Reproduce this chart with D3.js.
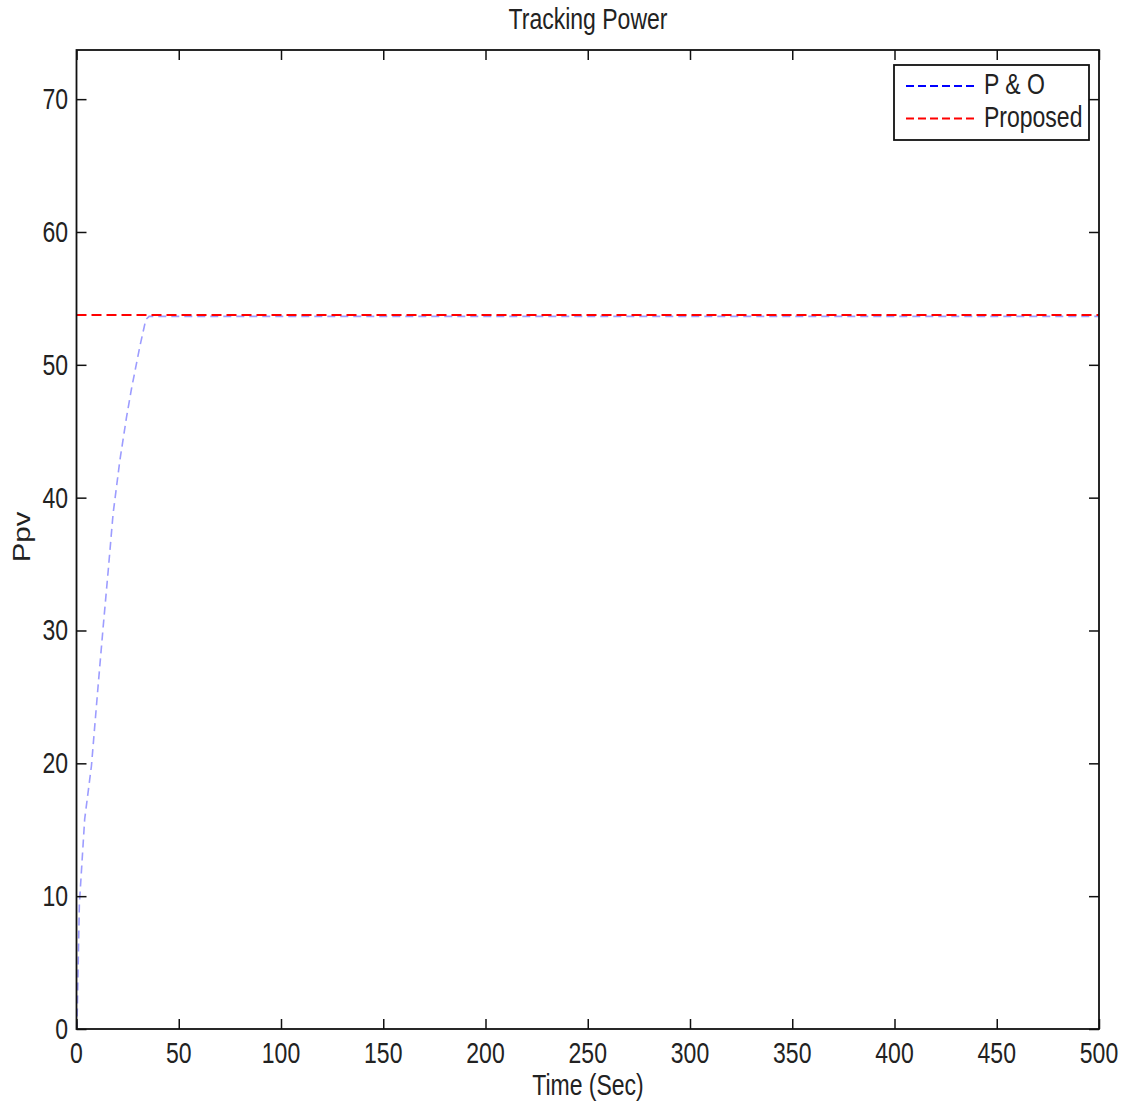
<!DOCTYPE html>
<html>
<head>
<meta charset="utf-8">
<script src="https://cdn.jsdelivr.net/npm/d3@7"></script>
<style>
  html, body { margin: 0; padding: 0; background: #fff; }
  svg { display: block; }
  text { font-family: "Liberation Sans", Arial, sans-serif; fill: #222; }
</style>
</head>
<body>
<svg id="chart" width="1125" height="1104"></svg>
<script>
// ---- data ----
const xTicks = [0, 50, 100, 150, 200, 250, 300, 350, 400, 450, 500];
const yTicks = [0, 10, 20, 30, 40, 50, 60, 70];
const seriesNames = ["P & O", "Proposed"];
const poTime  = [0, 0.2, 1.4, 4, 7.3, 10.6, 13, 15.5, 17.9, 21.2, 24.4, 26.9, 31, 33.9, 35.5, 500];
const poPower = [0, 0, 9.4, 15.8, 19.8, 25.9, 30.2, 34.5, 38.8, 42.8, 46.0, 48.2, 51.4, 53.4, 53.65, 53.65];
const propTime  = [0, 500];
const propPower = [53.75, 53.75];

// ---- layout ----
const L = 76.5, R = 1099, T = 50, B = 1029;
const svg = d3.select("#chart");
const x = d3.scaleLinear().domain([0, 500]).range([L, R]);
const y = d3.scaleLinear().domain([0, 73.7]).range([B, T]);
const SY = 1.28, FS = 23;

function stext(g, px, py, str, anchor, rot) {
  return g.append("text")
    .attr("transform", `translate(${px},${py}) scale(1,${SY})` + (rot ? ` rotate(${rot})` : ""))
    .attr("text-anchor", anchor)
    .style("font-size", FS + "px")
    .text(str);
}

// data lines
const line = d3.line().x(d => x(d[0])).y(d => y(d[1]));
svg.append("clipPath").attr("id", "clip").append("rect")
  .attr("x", L).attr("y", T).attr("width", R - L).attr("height", B - T);
const plot = svg.append("g").attr("clip-path", "url(#clip)");

plot.append("path")
  .datum(poTime.map((t, i) => [t, poPower[i]]))
  .attr("d", line).attr("fill", "none")
  .attr("stroke", "#5a5aff").attr("stroke-opacity", 0.6)
  .attr("stroke-width", 1.6).attr("stroke-dasharray", "8,5");

plot.append("path")
  .datum(propTime.map((t, i) => [t, propPower[i]]))
  .attr("d", line).attr("fill", "none")
  .attr("stroke", "#ff0000").attr("stroke-width", 2.2)
  .attr("stroke-dasharray", "10,5");

// axes (MATLAB style: inward ticks on all sides)
const tl = 10;
const ax = svg.append("g");
ax.append("g").attr("transform", `translate(0,${B})`)
  .call(d3.axisBottom(x).tickValues(xTicks).tickSize(-tl).tickFormat(""))
  .call(g => g.select(".domain").remove());
ax.append("g").attr("transform", `translate(0,${T})`)
  .call(d3.axisTop(x).tickValues(xTicks).tickSize(-tl).tickFormat(""))
  .call(g => g.select(".domain").remove());
ax.append("g").attr("transform", `translate(${L},0)`)
  .call(d3.axisLeft(y).tickValues(yTicks).tickSize(-tl).tickFormat(""))
  .call(g => g.select(".domain").remove());
ax.append("g").attr("transform", `translate(${R},0)`)
  .call(d3.axisRight(y).tickValues(yTicks).tickSize(-tl).tickFormat(""))
  .call(g => g.select(".domain").remove());
ax.selectAll(".tick line").attr("stroke", "#111").attr("stroke-width", 1.5);

svg.append("rect").attr("x", L).attr("y", T).attr("width", R - L).attr("height", B - T)
  .attr("fill", "none").attr("stroke", "#111").attr("stroke-width", 1.8);

// tick labels
const lab = svg.append("g");
xTicks.forEach(v => stext(lab, x(v), 1063, v, "middle"));
yTicks.forEach(v => stext(lab, 68, y(v) + 10, v, "end"));

// title & axis labels
stext(svg, 588, 29, "Tracking Power", "middle");
stext(svg, 588, 1095, "Time (Sec)", "middle");
stext(svg, 30, 537, "Ppv", "middle", -90);

// legend
const lg = svg.append("g");
lg.append("rect").attr("x", 894).attr("y", 65).attr("width", 195).attr("height", 75)
  .attr("fill", "#fff").attr("stroke", "#111").attr("stroke-width", 1.8);
const legColors = ["#0000ff", "#ff0000"];
seriesNames.forEach((n, i) => {
  const ly = 86 + i * 32.5;
  lg.append("line").attr("x1", 906).attr("x2", 978).attr("y1", ly).attr("y2", ly)
    .attr("stroke", legColors[i]).attr("stroke-width", 1.8).attr("stroke-dasharray", "8,4");
  stext(lg, 984, ly + 8, n, "start");
});
</script>
</body>
</html>
